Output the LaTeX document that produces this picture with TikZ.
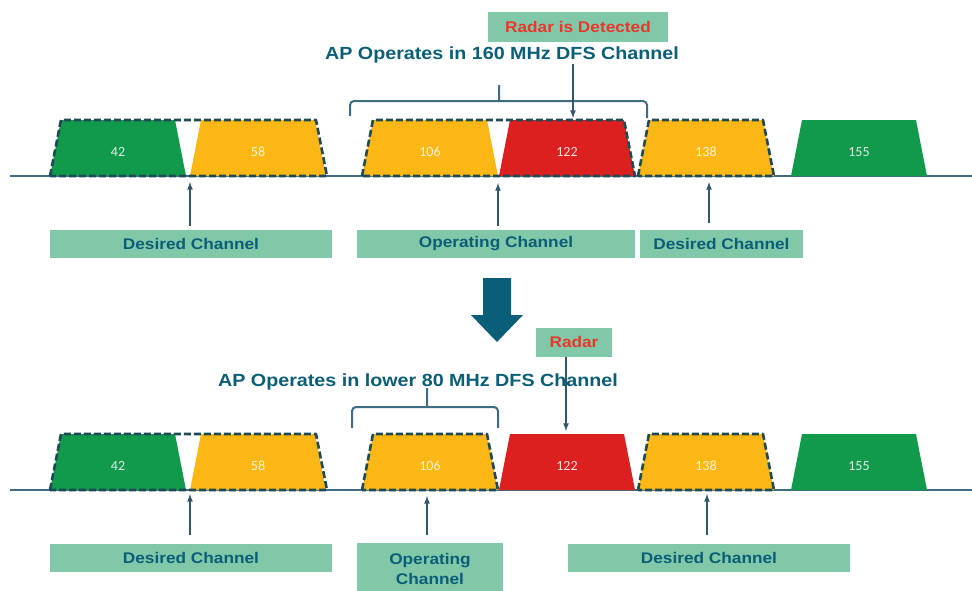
\documentclass[tikz,border=0pt]{standalone}
\usepackage{fontspec}
\setmainfont{Liberation Sans}[FakeStretch=1.12]
\newfontfamily\numfont{Carlito}
\usepackage{tikz}
\definecolor{chgreen}{RGB}{17,154,76}
\definecolor{chyellow}{RGB}{251,183,20}
\definecolor{chred}{RGB}{220,31,31}
\definecolor{lblfill}{RGB}{128,200,168}
\definecolor{tealtext}{RGB}{11,94,120}
\definecolor{dashcol}{RGB}{30,74,85}
\definecolor{basecol}{RGB}{62,109,131}
\definecolor{radartext}{RGB}{232,56,44}
\tikzset{
  chnum/.style={font=\numfont\fontsize{14}{14}\selectfont,text=white,text opacity=0.85},
  lbl/.style={fill=lblfill,text=tealtext,font=\bfseries\fontsize{15.4}{20}\selectfont,inner sep=0pt,align=center},
  radarlbl/.style={fill=lblfill,text=radartext,font=\bfseries\fontsize{15.4}{16}\selectfont,inner sep=0pt},
  title/.style={text=tealtext,font=\bfseries\fontsize{17.6}{18}\selectfont,inner sep=1pt},
  dfsline/.style={draw=dashcol,line width=2.6pt,dash pattern=on 7pt off 3pt},
  baseline/.style={draw=basecol,line width=2.4pt},
  bracket/.style={draw=basecol,line width=2pt,rounded corners=4pt},
  uparrow/.style={draw=basecol!80!black,line width=1.6pt,-{latex[length=5pt,width=5pt]}}
}
\usetikzlibrary{arrows.meta}
\newcommand{\chan}[5]{\fill[#4] (#2,#3) -- ++(11,-56) -- ++(114,0) -- ++(11,56) -- cycle;
  \node[chnum] (#1) at (#2+68,#3-24) {#5};}
\newcommand{\dfsbox}[3]{\draw[dfsline] (#1,#3) -- ++(11,-56) -- (#2-11,#3-56) -- (#2,#3) -- cycle;}
\newcommand{\lbox}[5]{\node[lbl,minimum width=#4pt,minimum height=28pt] (#1) at (#2,#3) {#5};}

\begin{document}
\begin{tikzpicture}[x=1pt,y=-1pt,line join=round]
\useasboundingbox (0,0) rectangle (972,590);

\draw[baseline] (10,176) -- (972,176);
\chan{c42}{50}{176}{chgreen}{42}
\chan{c58}{190}{176}{chyellow}{58}
\chan{c106}{362}{176}{chyellow}{106}
\chan{c122}{499}{176}{chred}{122}
\chan{c138}{638}{176}{chyellow}{138}
\chan{c155}{791}{176}{chgreen}{155}
\dfsbox{50}{327}{176}
\dfsbox{362}{635}{176}
\dfsbox{638}{774}{176}

\node[title] (t1) at (502,55) {AP Operates in 160 MHz DFS Channel};
\node[radarlbl,minimum width=180pt,minimum height=30pt] (radar1) at (578,27) {Radar is Detected};
\draw[bracket] (350,116) |- (647,101) -- (647,118) (499,101) -- (499,85);
\coordinate (r1) at (573,118);
\draw[uparrow] (t1.south -| r1) -- (r1);

\lbox{des1}{191}{244}{282}{Desired Channel}
\lbox{op1}{496}{244}{278}{Operating Channel}
\lbox{des2}{721.5}{244}{163}{Desired Channel}
\coordinate (a1) at (190,182);
\coordinate (a2) at (498,183);
\coordinate (a3) at (709,182);
\draw[uparrow,shorten <=4pt] (des1.north -| a1) -- (a1);
\draw[uparrow,shorten <=4pt] (op1.north -| a2) -- (a2);
\draw[uparrow,shorten <=7pt] (des2.north -| a3) -- (a3);

\fill[tealtext] (483,278) -- (511,278) -- (511,315) -- (523,315) -- (497,342)
  -- (471,315) -- (483,315) -- cycle;

\draw[baseline] (10,490) -- (972,490);
\chan{d42}{50}{490}{chgreen}{42}
\chan{d58}{190}{490}{chyellow}{58}
\chan{d106}{362}{490}{chyellow}{106}
\chan{d122}{499}{490}{chred}{122}
\chan{d138}{638}{490}{chyellow}{138}
\chan{d155}{791}{490}{chgreen}{155}
\dfsbox{50}{327}{490}
\dfsbox{362}{498}{490}
\dfsbox{638}{774}{490}

\node[title] (t2) at (418,382) {AP Operates in lower 80 MHz DFS Channel};
\node[radarlbl,minimum width=76pt,minimum height=29pt] (radar2) at (574,342) {Radar};
\draw[bracket] (352,428) |- (498,407) -- (498,428) (427,407) -- (427,388);
\coordinate (r2) at (566,431);
\draw[uparrow] (radar2.south -| r2) -- (r2);

\lbox{des3}{191}{557.5}{282}{Desired Channel}
\node[lbl,minimum width=146pt,minimum height=52pt,anchor=north] (op2) at (430,543) {Operating\\Channel};
\lbox{des4}{709}{557.5}{282}{Desired Channel}
\coordinate (b1) at (190,494);
\coordinate (b2) at (427,496);
\coordinate (b3) at (707,494);
\draw[uparrow,shorten <=8pt] (des3.north -| b1) -- (b1);
\draw[uparrow,shorten <=8pt] (op2.north -| b2) -- (b2);
\draw[uparrow,shorten <=8pt] (des4.north -| b3) -- (b3);
\end{tikzpicture}
\end{document}
